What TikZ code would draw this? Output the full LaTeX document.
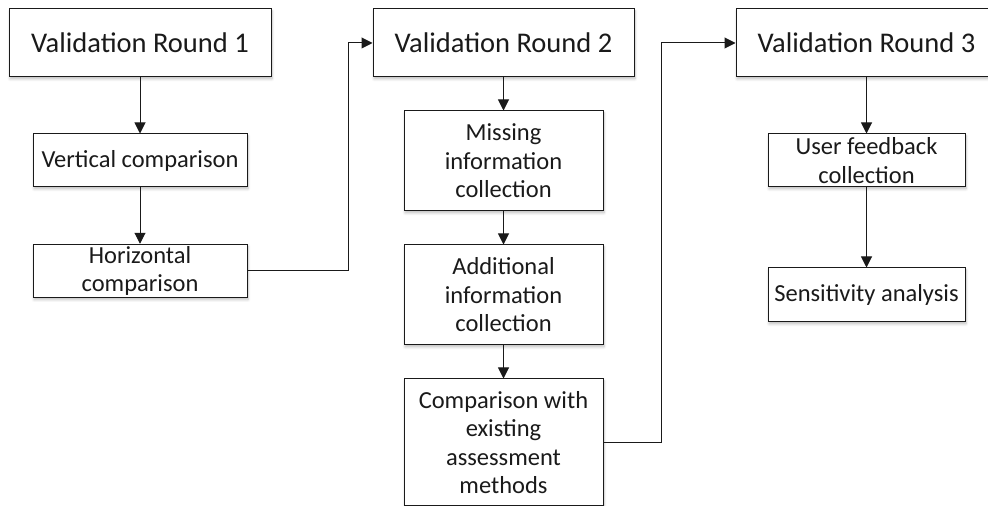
\documentclass[tikz,border=0pt]{standalone}
\usepackage{fontspec}
\setmainfont{Carlito}
\usetikzlibrary{arrows.meta,shadows.blur}
\definecolor{inkgray}{HTML}{1A1A1A}
\tikzset{
  box/.style={draw=inkgray, line width=1pt, fill=white, align=center,
    inner sep=2pt, text=inkgray,
    blur shadow={shadow xshift=1pt, shadow yshift=-2pt, shadow blur radius=2.5pt,
      shadow opacity=25, shadow blur steps=6}},
  roundbox/.style={box, minimum height=68pt, font=\fontsize{28.5}{33}\selectfont},
  stepbox/.style={box, font=\fontsize{24.5}{28.5}\selectfont},
  link/.style={draw=inkgray, line width=1pt, -{Triangle[length=11pt,width=11pt]}},
}
\begin{document}
\begin{tikzpicture}[x=1pt,y=1pt]
  \useasboundingbox (0,0) rectangle (988,506);
  \clip (0,0) rectangle (988,506);

  % round headers
  \node[roundbox, minimum width=262pt] (r1) at (140,463) {Validation Round 1};
  \node[roundbox, minimum width=261pt] (r2) at (503.5,463) {Validation Round 2};
  \node[roundbox, minimum width=261pt] (r3) at (866.5,463) {Validation Round 3};

  % round 1 steps
  \node[stepbox, minimum width=214pt, minimum height=53pt] (vc) at (140,345.5) {Vertical comparison};
  \node[stepbox, minimum width=214pt, minimum height=52pt] (hc) at (140,235) {Horizontal\\comparison};

  % round 2 steps
  \node[stepbox, minimum width=199pt, minimum height=100pt] (mi) at (503.5,345) {Missing\\information\\collection};
  \node[stepbox, minimum width=199pt, minimum height=100pt] (ai) at (503.5,211) {Additional\\information\\collection};
  \node[stepbox, minimum width=199pt, minimum height=127pt] (cm) at (503.5,63.5) {Comparison with\\existing\\assessment\\methods};

  % round 3 steps
  \node[stepbox, minimum width=197pt, minimum height=53pt] (uf) at (866.5,345.5) {User feedback\\collection};
  \node[stepbox, minimum width=197pt, minimum height=54pt] (sa) at (866.5,211) {Sensitivity analysis};

  % connectors
  \draw[link] (r1) -- (vc);
  \draw[link] (vc) -- (hc);
  \draw[link] (hc.east) -- ++(101,0) |- (r2.west);
  \draw[link] (r2) -- (mi);
  \draw[link] (mi) -- (ai);
  \draw[link] (ai) -- (cm);
  \draw[link] (cm.east) -- ++(58,0) |- (r3.west);
  \draw[link] (r3) -- (uf);
  \draw[link] (uf) -- (sa);
\end{tikzpicture}
\end{document}
